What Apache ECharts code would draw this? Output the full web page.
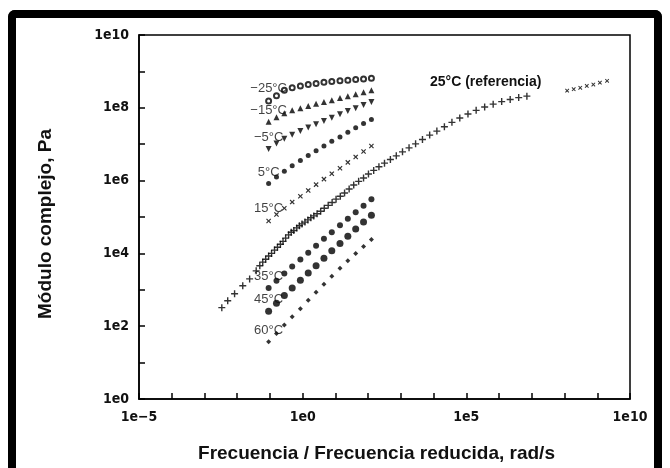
<!DOCTYPE html>
<html>
<head>
<meta charset="utf-8">
<script src="https://cdn.jsdelivr.net/npm/echarts@6/dist/echarts.min.js"></script>
<style>
  html, body { margin: 0; padding: 0; background: #fff; }
  #chart { position: absolute; left: 0; top: 0; width: 670px; height: 468px; }
  #frame { position: absolute; left: 8px; top: 10px; width: 638px; height: 470px;
           border: 8px solid #000; border-bottom: none; border-radius: 7px 7px 0 0; pointer-events: none; }
</style>
</head>
<body>
<div id="chart"></div>
<div id="frame"></div>
<script>
// ---- Data (log10 values) ----
const xTickExponents = [-5, 0, 5, 10];        // labelled x ticks: 1e−5, 1e0, 1e5, 1e10
const yTickExponents = [0, 2, 4, 6, 8, 10];   // labelled y ticks: 1e0 ... 1e10

// isotherms: log10(frequency, rad/s)
const isoLogFreq = [-1.04, -0.80, -0.56, -0.32, -0.07, 0.17, 0.41, 0.65, 0.89, 1.14, 1.38, 1.62, 1.86, 2.10];

// log10(complex modulus, Pa) per temperature
const logG_m25 = [8.19, 8.33, 8.48, 8.55, 8.60, 8.64, 8.67, 8.70, 8.72, 8.74, 8.76, 8.78, 8.79, 8.81];
const logG_m15 = [7.62, 7.74, 7.85, 7.93, 7.99, 8.05, 8.11, 8.16, 8.21, 8.27, 8.32, 8.37, 8.43, 8.48];
const logG_m5  = [6.87, 7.02, 7.15, 7.26, 7.36, 7.46, 7.55, 7.64, 7.73, 7.82, 7.91, 7.99, 8.08, 8.16];
const logG_5   = [5.92, 6.10, 6.26, 6.41, 6.55, 6.69, 6.82, 6.95, 7.08, 7.20, 7.33, 7.45, 7.57, 7.68];
const logG_15  = [4.89, 5.07, 5.24, 5.41, 5.57, 5.73, 5.89, 6.04, 6.19, 6.34, 6.50, 6.65, 6.80, 6.95];
const logG_35  = [3.05, 3.25, 3.45, 3.64, 3.83, 4.02, 4.21, 4.40, 4.58, 4.77, 4.95, 5.13, 5.31, 5.49];
const logG_45  = [2.41, 2.63, 2.84, 3.05, 3.26, 3.46, 3.66, 3.87, 4.07, 4.27, 4.47, 4.67, 4.86, 5.05];
const logG_60  = [1.57, 1.80, 2.03, 2.26, 2.48, 2.71, 2.93, 3.15, 3.37, 3.59, 3.80, 4.00, 4.19, 4.38];

// master curve at 25 °C (reference): log10(reduced frequency), log10(modulus)
const masterLogFreq = [-2.47, -2.29, -2.08, -1.83, -1.62, -1.42, -1.31, -1.22, -1.13, -1.04, -0.95, -0.86, -0.77, -0.68,
  -0.60, -0.52, -0.43, -0.35, -0.27, -0.18, -0.10, -0.02, 0.07, 0.16, 0.25, 0.34, 0.44, 0.55, 0.66, 0.78, 0.90, 1.02,
  1.15, 1.28, 1.42, 1.56, 1.71, 1.86, 2.01, 2.17, 2.33, 2.50, 2.68, 2.86, 3.05, 3.25, 3.45, 3.66, 3.88, 4.10, 4.33,
  4.56, 4.80, 5.05, 5.30, 5.56, 5.82, 6.08, 6.34, 6.60, 6.85];
const masterLogG = [2.51, 2.70, 2.89, 3.11, 3.30, 3.52, 3.66, 3.76, 3.84, 3.93, 4.00, 4.09, 4.17, 4.25,
  4.33, 4.42, 4.51, 4.58, 4.63, 4.70, 4.76, 4.81, 4.86, 4.92, 4.98, 5.03, 5.09, 5.16, 5.24, 5.32, 5.40, 5.49,
  5.57, 5.66, 5.77, 5.88, 5.98, 6.07, 6.18, 6.28, 6.38, 6.48, 6.58, 6.68, 6.79, 6.90, 7.01, 7.13, 7.25, 7.36, 7.48,
  7.60, 7.72, 7.83, 7.93, 8.02, 8.10, 8.17, 8.23, 8.28, 8.32];
// high-frequency tail of the reference curve
const tailLogFreq = [8.08, 8.28, 8.48, 8.68, 8.88, 9.08, 9.30];
const tailLogG    = [8.47, 8.51, 8.55, 8.60, 8.64, 8.69, 8.74];

const isoLabels = ['−25°C', '−15°C', '−5°C', '5°C', '15°C', '35°C', '45°C', '60°C'];
const isoData = [logG_m25, logG_m15, logG_m5, logG_5, logG_15, logG_35, logG_45, logG_60];

// ---- Styling ----
const PLUS = 'path://M4,0H6V4H10V6H6V10H4V6H0V4H4Z';
const isoStyles = [
  { symbol: 'emptyCircle', size: 5 },
  { symbol: 'triangle', size: 6 },
  { symbol: 'triangle', size: 6, rotate: 180 },
  { symbol: 'circle', size: 5 },
  { symbol: PLUS, size: 6, rotate: 45 },
  { symbol: 'circle', size: 6 },
  { symbol: 'circle', size: 7 },
  { symbol: 'diamond', size: 5 }
];
const FONT = "'Liberation Sans', Arial, sans-serif";
const TICKFONT = "'Liberation Sans Narrow', 'DejaVu Sans Condensed', 'Liberation Sans', sans-serif";

function toPoints(lx, ly) { return lx.map((v, i) => [Math.pow(10, v), Math.pow(10, ly[i])]); }
function makeFormatter(labelled) {
  return function (v) {
    const e = Math.round(Math.log10(v));
    if (labelled.indexOf(e) < 0) return '';
    return '1e' + (e < 0 ? '−' + (-e) : e);
  };
}

const series = isoData.map((ly, k) => {
  const pts = toPoints(isoLogFreq, ly);
  const data = pts.map((p, i) => i === 0 ? {
    value: p,
    label: { show: true, formatter: isoLabels[k], position: 'top', distance: 2,
             color: '#111', fontSize: 13, fontFamily: FONT }
  } : p);
  return {
    name: isoLabels[k], type: 'scatter', data,
    symbol: isoStyles[k].symbol, symbolSize: isoStyles[k].size, symbolRotate: isoStyles[k].rotate || 0,
    itemStyle: { color: '#000', borderColor: '#000', borderWidth: isoStyles[k].symbol === 'emptyCircle' ? 1 : 0 },
    emphasis: { disabled: true }, animation: false
  };
});
series.push({
  name: '25°C (referencia)', type: 'scatter', data: toPoints(masterLogFreq, masterLogG),
  symbol: PLUS, symbolSize: 7, itemStyle: { color: '#000' }, animation: false
});
series.push({
  name: '25°C (referencia) alta', type: 'scatter', data: toPoints(tailLogFreq, tailLogG),
  symbol: PLUS, symbolSize: 5, symbolRotate: 45, itemStyle: { color: '#000' }, animation: false
});

const axisCommon = {
  type: 'log', logBase: 10, interval: 1,
  nameLocation: 'middle',
  axisLine: { lineStyle: { color: '#000', width: 1.5 } },
  axisTick: { show: true, inside: true, length: 6, lineStyle: { color: '#000', width: 1.5 } },
  minorTick: { show: false },
  splitLine: { show: false }
};

const chart = echarts.init(document.getElementById('chart'), null, { renderer: 'canvas' });
chart.setOption({
  backgroundColor: '#fff',
  animation: false,
  grid: { left: 139, right: 40, top: 35, bottom: 63, show: true, borderColor: '#000', borderWidth: 1.5 },
  xAxis: Object.assign({}, axisCommon, {
    min: 1e-5, max: 1e10,
    name: 'Frecuencia / Frecuencia reducida, rad/s', nameGap: 45,
    nameTextStyle: { fontSize: 19, fontWeight: 'bold', color: '#111', fontFamily: FONT, padding: [0, 16, 0, 0] },
    axisLabel: { formatter: makeFormatter(xTickExponents), fontSize: 14, fontWeight: 'bold', color: '#111',
                 fontFamily: TICKFONT, margin: 11, showMinLabel: true, showMaxLabel: true }
  }),
  yAxis: Object.assign({}, axisCommon, {
    min: 1, max: 1e10,
    name: 'Módulo complejo, Pa', nameGap: 84,
    nameTextStyle: { fontSize: 19, fontWeight: 'bold', color: '#111', fontFamily: FONT, padding: [0, 14, 0, 0] },
    axisLabel: { formatter: makeFormatter(yTickExponents), fontSize: 14, fontWeight: 'bold', color: '#111',
                 fontFamily: TICKFONT, margin: 10, showMinLabel: true, showMaxLabel: true }
  }),
  graphic: [{
    type: 'text', left: 430, top: 75,
    style: { text: '25°C (referencia)', fill: '#111', font: "bold 14px 'Liberation Sans', Arial" }
  }],
  series
});
</script>
</body>
</html>
